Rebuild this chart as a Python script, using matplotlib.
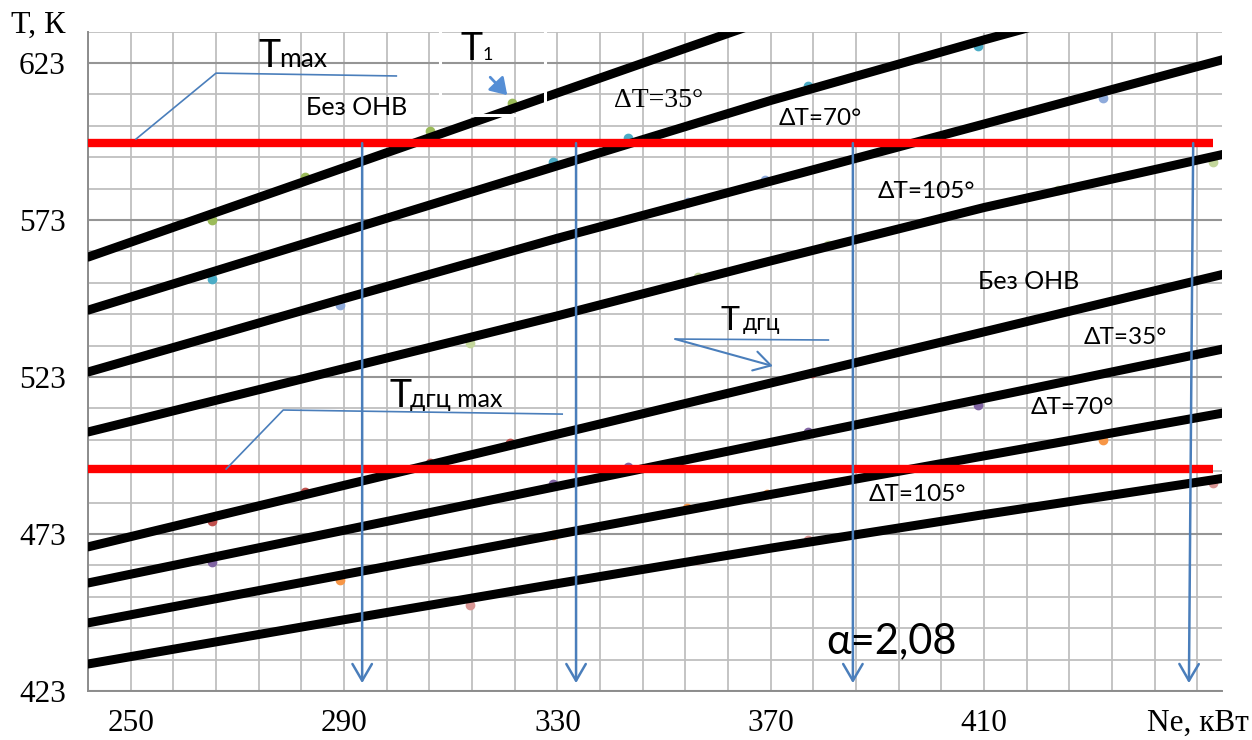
import numpy as np
import matplotlib
matplotlib.use("Agg")
import matplotlib.pyplot as plt
from matplotlib.patches import Rectangle

SANS = ["Lato", "Open Sans", "DejaVu Sans"]
SERIF = ["Liberation Serif", "DejaVu Serif"]

# x grid of the trend lines, kW
line_x = [242, 290, 330, 370, 410, 455]

# temperature curves, K (upper group T1, lower group Tдгц)
t1_base = [561.2, 589.7, 613.5, 637.2, 661.0, 687.0]
t1_35 = [544.3, 569.4, 590.3, 611.1, 630.4, 651.4]
t1_70 = [524.6, 548.0, 567.2, 585.4, 603.6, 624.2]
t1_105 = [505.5, 525.7, 542.5, 560.0, 577.0, 594.0]
tg_base = [468.9, 488.5, 504.8, 521.1, 537.4, 555.8]
tg_35 = [457.4, 474.2, 488.2, 502.2, 516.2, 532.0]
tg_70 = [444.7, 460.1, 472.9, 485.6, 497.9, 511.6]
tg_105 = [431.6, 445.7, 457.2, 468.5, 479.2, 490.8]

# measured points (mostly hidden behind the trend lines)
pts = [
    ([265.3, 282.7, 306.1, 321.5], [573.0, 586.7, 601.3, 610.3], "#9bbb59"),
    ([265.3, 329.2, 343.3, 377.0, 408.9], [554.2, 591.5, 599.1, 615.7, 628.4], "#4bacc6"),
    ([289.3, 330.0, 354.5, 368.9, 432.3], [545.9, 567.3, 578.7, 585.7, 611.9], "#8eaadb"),
    ([313.6, 356.4, 380.8, 423.9, 452.9], [533.8, 554.8, 565.0, 582.5, 591.5], "#c3d69b"),
    ([265.3, 282.7, 306.1, 321.1, 377.8], [477.1, 486.4, 495.6, 502.0, 524.3], "#c0504d"),
    ([265.3, 329.2, 343.3, 377.0, 408.9], [464.1, 488.9, 494.3, 505.5, 514.1], "#8064a2"),
    ([289.3, 329.2, 354.3, 369.3, 432.3], [458.4, 472.7, 481.3, 485.7, 502.9], "#f79646"),
    ([313.6, 356.2, 377.0, 452.9], [450.4, 464.7, 471.1, 489.2], "#d99694"),
]

t_max = 597.5
tdgc_max = 493.6
limit_x = [242, 452.9]

# operating points (vertical arrows)
arrow_x_top = [293.4, 333.5, 385.4, 449.2]
arrow_x_bot = [293.4, 333.5, 385.4, 448.4]
arrow_y_bot = 425.5

x_ticks = [250, 290, 330, 370, 410, 450]
x_labels = ["250", "290", "330", "370", "410", "Ne, кВт"]
y_ticks = [423, 473, 523, 573, 623]

blue = "#4a7ebb"

fig = plt.figure(figsize=(12.52, 7.4), dpi=100)
ax = fig.add_axes([88 / 1252, 49 / 740, 1134 / 1252, 659.3 / 740])
ax.set_xlim(242, 454.6)
ax.set_ylim(423, 633)

# grid
ax.set_xticks(x_ticks)
ax.set_xticklabels(x_labels)
ax.set_xticks(np.arange(242, 455, 8), minor=True)
ax.set_yticks(y_ticks)
ax.set_yticks(np.arange(423, 634, 10), minor=True)
ax.grid(which="minor", color="#bfbfbf", lw=1.3)
ax.grid(which="major", axis="x", color="#bfbfbf", lw=1.3)
ax.grid(which="major", axis="y", color="#959595", lw=1.5)
ax.set_axisbelow(True)
ax.tick_params(which="both", length=0)
ax.tick_params(axis="x", pad=13)
ax.tick_params(axis="y", pad=16)
for lab in ax.get_xticklabels() + ax.get_yticklabels():
    lab.set_family(SERIF)
    lab.set_fontsize(22.5)
for s in ["top", "right"]:
    ax.spines[s].set_visible(False)
for s in ["left", "bottom"]:
    ax.spines[s].set_color("#8c8c8c")
    ax.spines[s].set_linewidth(1.4)

for xs, ys, c in pts:
    ax.plot(xs, ys, "o", color=c, ms=6, zorder=2)

for ys in [t1_base, t1_35, t1_70, t1_105, tg_base, tg_35, tg_70, tg_105]:
    ax.plot(line_x, ys, color="black", lw=6.5, solid_capstyle="round", zorder=3)

ax.plot(limit_x, [t_max, t_max], color="red", lw=6, solid_capstyle="butt", zorder=4)
ax.plot(limit_x, [tdgc_max, tdgc_max], color="red", lw=6, solid_capstyle="butt", zorder=4)

for xt, xb in zip(arrow_x_top, arrow_x_bot):
    ax.annotate("", xy=(xb, arrow_y_bot), xytext=(xt, t_max),
                arrowprops=dict(arrowstyle="->,head_length=0.6,head_width=0.35",
                                color=blue, lw=1.8, mutation_scale=20,
                                shrinkA=0, shrinkB=0), zorder=5)

# leader lines
ax.plot([251.0, 266.0, 299.8], [598.8, 619.8, 618.9], color=blue, lw=1.2, zorder=5)
ax.plot([267.9, 278.6, 330.9], [493.7, 512.5, 511.2], color=blue, lw=1.2, zorder=5)
ax.plot([352.1, 380.8], [535.1, 534.8], color=blue, lw=1.2, zorder=5)
ax.annotate("", xy=(370.4, 526.5), xytext=(352.1, 535.1),
            arrowprops=dict(arrowstyle="->,head_length=0.6,head_width=0.35",
                            color=blue, lw=1.5, mutation_scale=20,
                            shrinkA=0, shrinkB=0), zorder=5)
ax.annotate("", xy=(320.6, 612.8), xytext=(317.4, 618.5),
            arrowprops=dict(arrowstyle="-|>,head_length=0.7,head_width=0.45",
                            color="#558ed5", lw=2, mutation_scale=14,
                            shrinkA=0, shrinkB=0), zorder=5)

# white frame of the T1 text box
ax.add_patch(Rectangle((308.0, 606.4), 19.7, 40, fill=False, ec="white", lw=2.2, zorder=6))

# labels
ax.text(273.9, 621.7, "T", family=SANS, fontsize=27, va="baseline", zorder=7)
ax.text(277.9, 621.7, "max", family=SANS, fontsize=19, va="baseline", zorder=7)
ax.text(311.75, 624.0, "T", family=SANS, fontsize=27, va="baseline", zorder=7)
ax.text(315.9, 624.0, "1", family=SANS, fontsize=13, va="baseline", zorder=7)
ax.text(298.6, 513.4, "T", family=SANS, fontsize=27, va="baseline", zorder=7)
ax.text(302.4, 513.4, "дгц max", family=SANS, fontsize=18, va="baseline", zorder=7)
ax.text(360.5, 538.0, "T", family=SANS, fontsize=23, va="baseline", zorder=7)
ax.text(364.8, 538.0, "дгц", family=SANS, fontsize=16.5, va="baseline", zorder=7)

ax.text(292.4, 609.0, "Без ОНВ", family=SANS, fontsize=18, ha="center", va="center", zorder=7)
ax.text(348.9, 611.2, "ΔT=35°", family=SERIF, fontsize=20, ha="center", va="center", zorder=7)
ax.text(379.25, 605.5, "ΔT=70°", family=SANS, fontsize=17.5, ha="center", va="center", zorder=7)
ax.text(399.1, 582.2, "ΔT=105°", family=SANS, fontsize=17.5, ha="center", va="center", zorder=7)
ax.text(418.3, 553.3, "Без ОНВ", family=SANS, fontsize=18, ha="center", va="center", zorder=7)
ax.text(436.4, 535.7, "ΔT=35°", family=SANS, fontsize=17.5, ha="center", va="center", zorder=7)
ax.text(426.5, 513.4, "ΔT=70°", family=SANS, fontsize=17.5, ha="center", va="center", zorder=7)
ax.text(397.4, 485.7, "ΔT=105°", family=SANS, fontsize=17.5, ha="center", va="center", zorder=7)
ax.text(392.7, 435.1, "α=2,08", family=SANS, fontsize=30, ha="center", va="baseline", zorder=7)

fig.text(38 / 1252, 1 - 25 / 740, "T, К", family=SERIF, fontsize=23, ha="center", va="center")

fig.savefig("out.png", dpi=100)
